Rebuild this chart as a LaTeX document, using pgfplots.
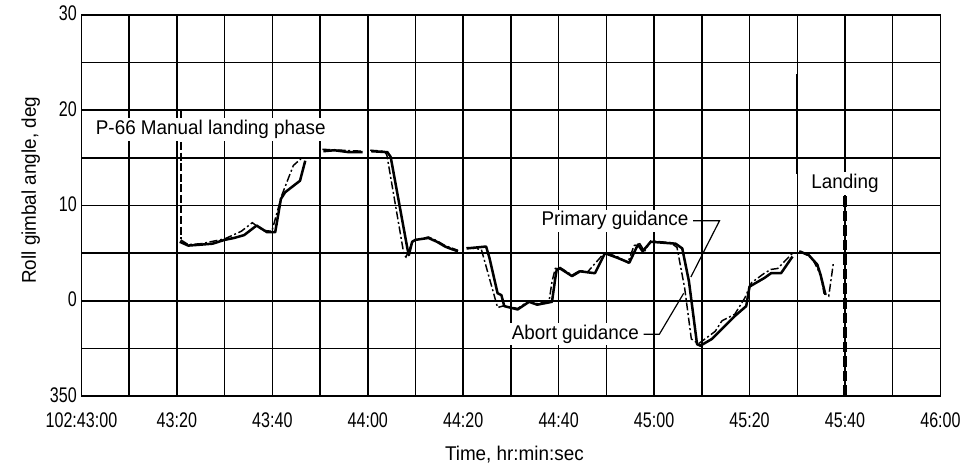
\documentclass[border=0pt]{standalone}
\usepackage{pgfplots}
\pgfplotsset{compat=1.18}
\usepackage{fontspec}
\setmainfont{Liberation Sans}[FakeStretch=0.95]
\newfontfamily\tickfont{Liberation Sans}[FakeStretch=0.76]

\begin{document}
\begin{tikzpicture}
\begin{axis}[
 scale only axis, width=648.75pt, height=288pt,
 xmin=0, xmax=180, ymin=-10, ymax=30,
 xtick={0,20,...,180}, minor xtick={10,30,...,170},
 xticklabels={102:43:00,43:20,43:40,44:00,44:20,44:40,45:00,45:20,45:40,46:00},
 ytick={-10,0,10,20,30}, minor ytick={-5,5,15,25},
 yticklabels={350,0,10,20,30},
 grid=both,
 major grid style={black, line width=1.1pt},
 minor grid style={black, line width=1.1pt},
 axis line style={black, line width=1.2pt},
 major tick length=0pt, minor tick length=0pt,
 tick label style={font=\fontsize{16}{18}\tickfont},
 xticklabel style={yshift=-9pt},
 yticklabel style={yshift=1pt},
 xlabel={Time, hr:min:sec}, ylabel={Roll gimbal angle, deg},
 label style={font=\fontsize{15}{17}\selectfont},
 xlabel style={at={(axis description cs:0.504,-0.152)}, anchor=center},
 ylabel style={at={(axis description cs:-0.059,0.54)}, anchor=center},
 clip=false, unbounded coords=jump,
]
% Primary guidance (solid)
\addplot[black, line width=1.9pt, line join=round] coordinates {
 (20.6,6.2) (22.4,5.8) (25.1,5.9) (27.5,6.0) (30.0,6.4) (32.0,6.6) (34.1,6.9) (36.7,7.9) (38.9,7.2) (40.6,7.2) (41.8,10.7) (42.7,11.4) (45.8,12.6) (46.9,14.7)
 (48.5,nan)
 (50.7,15.7) (53.0,15.8) (56.0,15.6) (58.9,15.6)
 (59.8,nan)
 (60.7,15.7) (64.1,15.6) (64.8,15.1) (68.3,5.5) (68.6,4.8) (69.3,6.2) (70.0,6.4) (72.7,6.6) (74.5,6.2) (76.2,5.7) (77.2,5.5) (78.9,5.2)
 (79.8,nan)
 (80.7,5.5) (84.8,5.7) (85.5,4.5) (87.2,0.8) (88.0,0.6) (88.6,-0.55) (91.4,-0.9) (93.8,-0.1) (95.5,-0.4) (98.6,-0.1) (99.3,2.4) (99.6,3.3) (100.3,3.4) (102.8,2.6) (104.5,3.1) (107.6,2.9) (109.7,5.0) (112.4,4.5) (114.8,4.0) (116.6,5.9) (117.6,5.2) (119.3,6.2) (124.5,6.0) (125.9,5.5) (127.3,2.05) (129.0,-4.55) (129.7,-4.7) (132.1,-4.0) (135.5,-2.3) (136.9,-1.6) (139.3,-0.55) (140.0,1.5) (143.1,2.4) (144.5,2.9) (146.6,2.9) (149.0,4.65)
 (149.7,nan)
 (150.4,5.2) (152.4,4.8) (154.2,3.8) (154.9,2.7) (155.9,0.65)
};
% Abort guidance (dash-dot)
\addplot[black, line width=1.1pt, dash pattern=on 6pt off 2pt on 1.5pt off 2pt] coordinates {
 (20.8,6.4) (22.4,5.9) (25.1,6.0) (30.0,6.5) (33.5,7.3) (35.8,8.2) (38.0,7.4) (39.9,7.3) (42.0,11.1) (44.4,14.2) (46.2,15.0)
 (48.3,nan)
 (50.5,15.9) (58.9,15.7)
 (59.7,nan)
 (60.5,15.8) (63.5,15.7) (64.0,15.3) (67.6,4.8) (68.0,4.6) (69.5,6.3) (72.7,6.7) (74.5,6.3) (76.2,5.8) (78.9,5.3)
 (79.8,nan)
 (80.7,5.6) (83.8,5.4) (87.2,-0.7) (88.6,-0.5) (91.4,-0.8) (93.8,0.0) (95.5,-0.3) (98.0,0.0) (98.6,2.0) (99.3,3.4) (100.3,3.5) (102.8,2.7) (104.5,3.2) (106.0,3.0) (109.7,5.1) (112.4,4.6) (114.5,4.0) (115.8,5.8) (117.0,6.0) (118.0,5.2) (119.3,6.3) (123.5,6.1) (124.8,5.6) (126.4,1.35) (127.8,-4.0) (129.3,-4.5) (132.8,-3.2) (134.2,-2.1) (136.9,-1.4) (139.0,0.3) (140.4,1.9) (143.1,2.9) (144.5,3.3) (145.9,3.4) (149.0,5.0)
 (149.8,nan)
 (150.7,5.2) (153.1,4.5) (154.9,2.7) (155.6,0.8) (156.6,0.5) (157.6,4.1)
};
% P-66 marker line
\addplot[black, line width=1.3pt, dash pattern=on 6pt off 2pt] coordinates {(20.8,20) (20.8,6.5)};
% Landing line
\addplot[black, line width=3pt, dash pattern=on 8pt off 3pt] coordinates {(160,11) (160,-10)};
% thick segment on 45:30 grid line
\addplot[black, line width=1.8pt] coordinates {(150,23.75) (150,13.3)};
% leader lines
\draw[black, line width=0.9pt] (axis cs:128.2,8.4) -- (axis cs:133.7,8.4) -- (axis cs:127.7,2.5);
\draw[black, line width=0.9pt] (axis cs:117.8,-3.5) -- (axis cs:121.1,-3.5) -- (axis cs:126.2,0.8);
% annotations
\node[fill=white, inner sep=1.5pt, font=\fontsize{15}{17}\selectfont] at (axis cs:27.1,18.0) {P-66 Manual landing phase};
\node[fill=white, inner sep=1.5pt, font=\fontsize{15}{17}\selectfont] at (axis cs:111.8,8.4) {Primary guidance};
\node[fill=white, inner sep=1.5pt, font=\fontsize{15}{17}\selectfont] at (axis cs:103.5,-3.5) {Abort guidance};
\node[fill=white, inner sep=1.5pt, font=\fontsize{15}{17}\selectfont] at (axis cs:160,12.3) {Landing};
\path (rel axis cs:-0.0948,-0.1849) rectangle (rel axis cs:1.0208,1.039);
\end{axis}
\end{tikzpicture}
\end{document}
